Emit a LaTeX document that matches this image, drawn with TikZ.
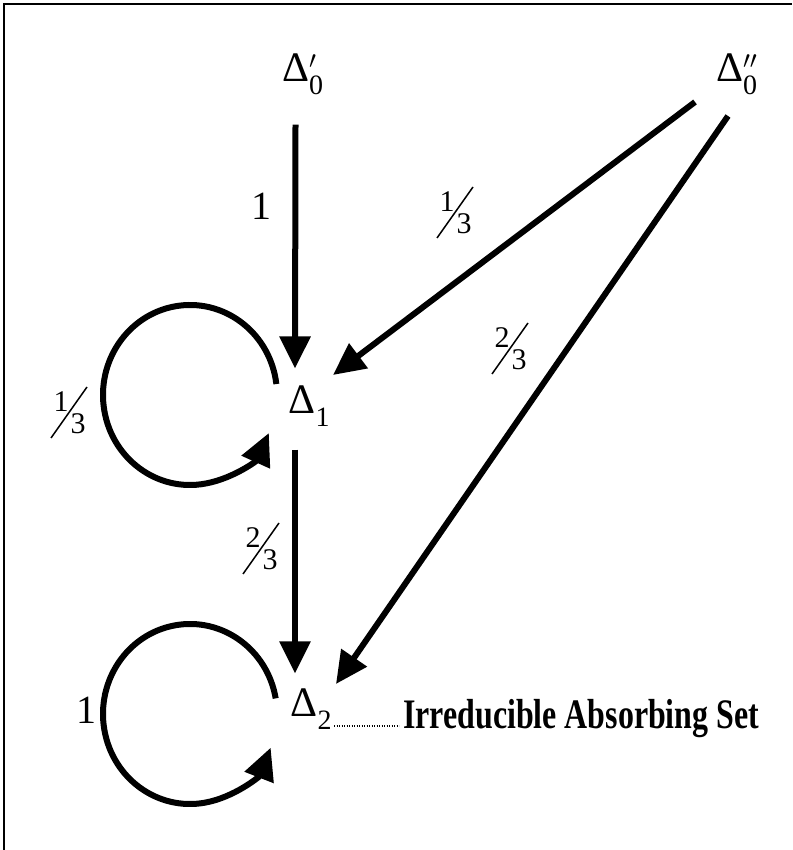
\documentclass[tikz,border=0pt]{standalone}
\usepackage{fontspec}
\setmainfont{Liberation Serif}
\usepackage{graphicx}
\usetikzlibrary{arrows.meta,calc}
\newcommand\mysub[1]{\rlap{\raisebox{-13pt}{\fontsize{28}{28}\selectfont #1}}}
\newcommand\mysubp[2]{\rlap{\raisebox{-13pt}{\fontsize{28}{28}\selectfont #1}}\rlap{\raisebox{13pt}{\fontsize{25}{25}\selectfont$#2$}}}
\begin{document}
\begin{tikzpicture}[x=1pt,y=1pt,
  big/.style={font=\fontsize{42}{42}\selectfont, inner sep=0pt},
  lab/.style={font=\fontsize{40}{40}\selectfont, inner sep=0pt},
  fnum/.style={font=\fontsize{30}{30}\selectfont, inner sep=0pt},
  arr/.style={line width=6pt, -{Triangle[length=32pt,width=30pt]}},
  dotline/.style={line width=1.2pt, dash pattern=on 1.2pt off 1.3pt},
  pics/fr/.style 2 args={code={
    \node[fnum] (-n) at (-8,10) {#1};
    \node[fnum] (-d) at (9,-12) {#2};
    \draw[line width=1.5pt] (-18,-26) -- (18,25);}}]
\useasboundingbox (0,0) rectangle (792,850);
\draw[line width=2.5pt] (4,0) -- (4,846) -- (792,846);

\node[big] (d0p) at (295.5,776) {Δ\mysubp{0}{\prime}};
\node[big] (d0pp) at (729.5,776) {Δ\mysubp{0}{\prime\prime}};
\node[big] (d1) at (302,444) {Δ\mysub{1}};
\node[big] (d2) at (304,141) {Δ\mysub{2}};

\draw[arr] ([yshift=-30pt]d0p.south) -- ([xshift=-7pt,yshift=17pt]d1.north);
\draw[arr] ([shift={(-34.5,-28)}]d0pp.center) -- ([shift={(31,31)}]d1.center);
\draw[arr] ([shift={(-1.5,-42)}]d0pp.center) -- ([shift={(32,25)}]d2.center);
\draw[arr] ([xshift=-7pt,yshift=-23pt]d1.south) -- ([xshift=-9pt,yshift=15pt]d2.north);

\coordinate (c1) at (190,455);
\draw[arr] ($(c1)+(7:87 and 90)$) arc[start angle=7,end angle=335,x radius=87,y radius=90];
\coordinate (c2) at (190,136);
\draw[arr] ($(c2)+(10:87 and 90)$) arc[start angle=10,end angle=338,x radius=87,y radius=90];

\node[lab] (l1) at (261.5,643.5) {1};
\node[lab] (l2) at (86,140) {1};
\pic (fa) at (455,638) {fr={1}{3}};
\pic (fb) at (510,502) {fr={2}{3}};
\pic (fc) at (261,302) {fr={2}{3}};
\pic (fd) at (69,438) {fr={1}{3}};

\node[anchor=base west, inner sep=0pt, font=\fontsize{42}{42}\selectfont\bfseries] (txt) at (403,121) {\scalebox{0.76}[1]{Irreducible Absorbing Set}};
\coordinate (dl) at ([yshift=3pt]txt.base west);
\coordinate (ds) at ([xshift=30pt]d2.center);
\draw[dotline] (ds |- dl) -- ([xshift=-4pt]dl);
\end{tikzpicture}
\end{document}
